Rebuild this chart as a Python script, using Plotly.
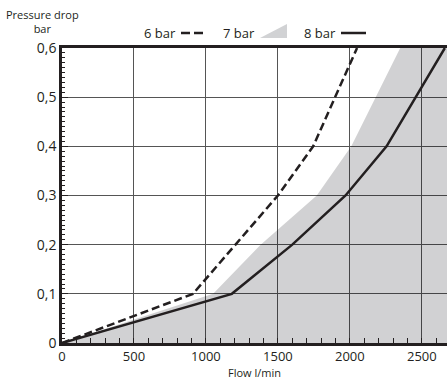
import plotly.graph_objects as go

# Flow l/min vs. pressure drop bar
flow_6 = [0, 910, 1500, 1745, 2050]
dp_6 = [0, 0.1, 0.3, 0.4, 0.6]

flow_7 = [0, 1050, 1380, 1770, 2010, 2180, 2350, 2700]
dp_7 = [0, 0.1, 0.2, 0.3, 0.4, 0.5, 0.6, 0.6]

flow_8 = [0, 1180, 1600, 1970, 2255, 2460, 2660]
dp_8 = [0, 0.1, 0.2, 0.3, 0.4, 0.5, 0.6]

x_ticks = [0, 500, 1000, 1500, 2000, 2500]
y_ticks = [0, 0.1, 0.2, 0.3, 0.4, 0.5, 0.6]

W, H = 447, 383
L, R, T, B = 62, 0, 48, 40
INK = '#231f20'
GREY = '#d1d2d4'
# halbtransparent, damit das Gitter durch die Fläche scheint
GREY_FILL = 'rgba(0,2,10,0.18)'
FONT = 'Open Sans'


def px(x, y):
    # Seitenpixel -> paper-Koordinaten
    return (x - L) / (W - L - R), (H - B - y) / (H - T - B)


fig = go.Figure()

fig.add_trace(go.Scatter(x=flow_7, y=dp_7, mode='lines', fill='tozeroy',
                         fillcolor=GREY_FILL, line=dict(width=0, color=GREY),
                         name='7 bar'))
fig.add_trace(go.Scatter(x=flow_6, y=dp_6, mode='lines',
                         line=dict(color=INK, width=2.5, dash='8px,4px'),
                         name='6 bar'))
fig.add_trace(go.Scatter(x=flow_8, y=dp_8, mode='lines',
                         line=dict(color=INK, width=2.5), name='8 bar'))

# Legende von Hand (Text vor Symbol)
shapes = []
annotations = []
for label, tx, kind in [('6 bar', 178, 'dash'), ('7 bar', 257, 'tri'), ('8 bar', 338, 'solid')]:
    ax, ay = px(tx, 33)
    annotations.append(dict(text=label, x=ax, y=ay, xref='paper', yref='paper',
                            xanchor='right', yanchor='middle', showarrow=False,
                            font=dict(family=FONT, size=13, color=INK)))
    if kind == 'tri':
        x0, y0 = px(260, 38)
        x1, y1 = px(287, 24)
        shapes.append(dict(type='path', xref='paper', yref='paper',
                           path=f'M {x0} {y0} L {x1} {y0} L {x1} {y1} Z',
                           fillcolor=GREY, line=dict(width=0)))
    else:
        x0, y0 = px(tx + 3, 33)
        x1, _ = px(tx + 28, 33)
        shapes.append(dict(type='line', xref='paper', yref='paper',
                           x0=x0, x1=x1, y0=y0, y1=y0,
                           line=dict(color=INK, width=2.5,
                                     dash='9px,4px' if kind == 'dash' else 'solid')))

tx, ty = px(42, 5)
annotations.append(dict(text='Pressure drop<br>bar', x=tx, y=ty, xref='paper', yref='paper',
                        xanchor='center', yanchor='top', showarrow=False, align='center',
                        font=dict(family=FONT, size=11, color=INK)))

fig.update_layout(
    width=W, height=H,
    margin=dict(l=L, r=R, t=T, b=B),
    paper_bgcolor='white', plot_bgcolor='white',
    showlegend=False,
    separators=',.',
    font=dict(family=FONT, size=13, color=INK),
    shapes=shapes,
    annotations=annotations,
    xaxis=dict(range=[0, 2675], tickvals=x_ticks, showgrid=True, gridcolor='#555555', gridwidth=1.2,
               showline=True, linecolor=INK, linewidth=2.5, mirror=True,
               ticks='inside', ticklen=5, tickcolor=INK,
               minor=dict(dtick=100, ticks='inside', ticklen=5, tickcolor=INK, showgrid=False),
               zeroline=False,
               title=dict(text='Flow l/min', font=dict(size=11), standoff=2),
               tickfont=dict(size=13)),
    yaxis=dict(range=[0, 0.6], tickvals=y_ticks, showgrid=True, gridcolor='#555555', gridwidth=1.2,
               showline=True, linecolor=INK, linewidth=2.5,
               ticks='inside', ticklen=6, tickcolor=INK,
               minor=dict(dtick=0.01, ticks='inside', ticklen=3, tickcolor=INK, showgrid=False),
               zeroline=False, tickfont=dict(size=14)),
)

# Seitenrand entfernen, damit die Figur genau ins Fenster passt
fig.write_html('out.html', config={'displayModeBar': False},
               post_script="document.body.style.margin='0';document.body.style.overflow='hidden';")
